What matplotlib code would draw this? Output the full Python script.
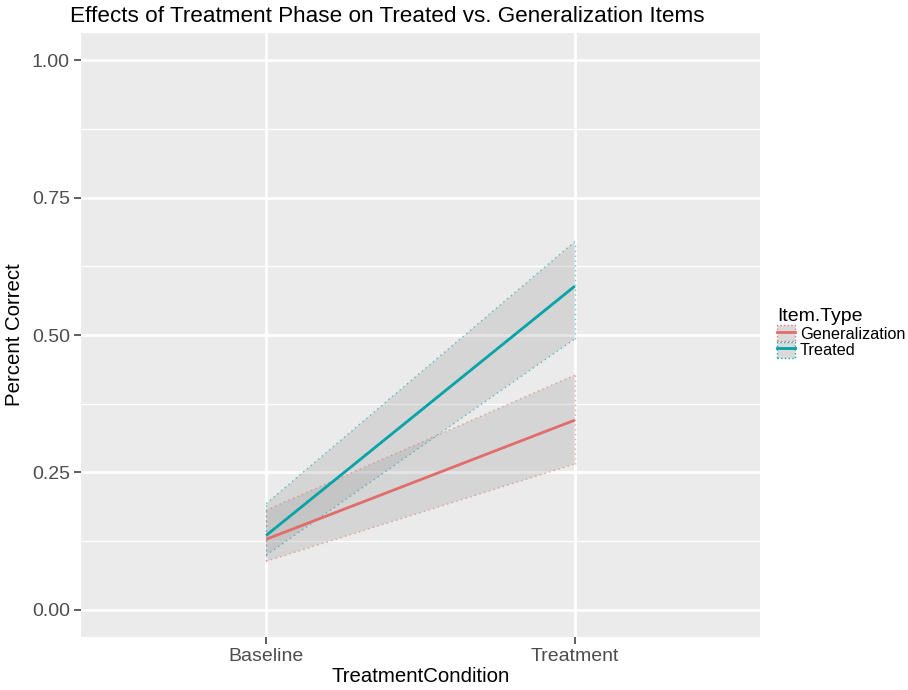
import matplotlib
matplotlib.use("Agg")
import matplotlib.pyplot as plt
from matplotlib.patches import Patch
from matplotlib.lines import Line2D
from matplotlib.legend_handler import HandlerTuple

plt.rcParams['font.family'] = ['Liberation Sans', 'DejaVu Sans']

conditions = ["Baseline", "Treatment"]
item_types = ["Generalization", "Treated"]
gen_mean = [0.128, 0.345]
gen_lower = [0.088, 0.265]
gen_upper = [0.181, 0.427]
tre_mean = [0.135, 0.589]
tre_lower = [0.099, 0.493]
tre_upper = [0.193, 0.670]
colors = ["#E06D69", "#00A3A8"]
y_ticks = [0.00, 0.25, 0.50, 0.75, 1.00]

fig = plt.figure(figsize=(9.08, 6.9), dpi=100)
ax = fig.add_axes([81/908, 53/690, (760-81)/908, (637-33)/690])
ax.set_facecolor("#EBEBEB")

xs = [1, 2]
series = [(gen_mean, gen_lower, gen_upper), (tre_mean, tre_lower, tre_upper)]
dot = (0, (1, 2.5))
for (m, lo, hi), c in zip(series, colors):
    ax.fill_between(xs, lo, hi, facecolor="#999999", alpha=0.26, edgecolor="none", zorder=2)
    ax.plot(xs, lo, color=c, lw=1.0, ls=dot, alpha=0.6, zorder=3)
    ax.plot(xs, hi, color=c, lw=1.0, ls=dot, alpha=0.6, zorder=3)
    ax.plot([1, 1], [lo[0], hi[0]], color=c, lw=1.0, ls=dot, alpha=0.6, zorder=3)
    ax.plot([2, 2], [lo[1], hi[1]], color=c, lw=1.0, ls=dot, alpha=0.6, zorder=3)
for (m, lo, hi), c in zip(series, colors):
    ax.plot(xs, m, color=c, lw=2.0, zorder=4, solid_capstyle='butt')

ax.set_xlim(0.4, 2.6)
ax.set_ylim(-0.05, 1.05)
ax.set_xticks(xs)
ax.set_xticklabels(conditions)
ax.set_yticks(y_ticks)
ax.set_yticklabels([f"{v:.2f}" for v in y_ticks])
ax.set_yticks([0.125, 0.375, 0.625, 0.875], minor=True)
ax.grid(which='major', color='white', lw=2.0, zorder=0)
ax.grid(which='minor', axis='y', color='white', lw=1.0, zorder=0)
ax.set_axisbelow(True)
for s in ax.spines.values():
    s.set_visible(False)
ax.tick_params(axis='both', which='major', length=5, width=1.1, color='#333333',
               labelsize=14, labelcolor='#4D4D4D', pad=3)
ax.tick_params(axis='y', which='minor', length=0)
ax.set_xlabel("TreatmentCondition", fontsize=14.7, color='black', labelpad=1)
ax.set_ylabel("Percent Correct", fontsize=14.7, color='black', labelpad=6)

fig.text(70/908, 1 - 16/690, "Effects of Treatment Phase on Treated vs. Generalization Items",
         fontsize=16.2, ha='left', va='center', color='black')

handles = []
for c in colors:
    p = Patch(facecolor="#D6D6D6", edgecolor=c, ls=':', lw=1.0, alpha=0.9)
    l = Line2D([0], [0], color=c, lw=2.0)
    handles.append((p, l))
leg = fig.legend(handles, item_types, handler_map={tuple: HandlerTuple(ndivide=1, pad=0)},
                 loc='upper left', bbox_to_anchor=(777/908, 1 - 308/690), frameon=False,
                 title="Item.Type", fontsize=11.7, title_fontsize=14, handlelength=1.1,
                 handleheight=1.15, handletextpad=0.3, labelspacing=0.0, borderaxespad=0,
                 borderpad=0, alignment='left')

fig.savefig("out.png", dpi=100)
